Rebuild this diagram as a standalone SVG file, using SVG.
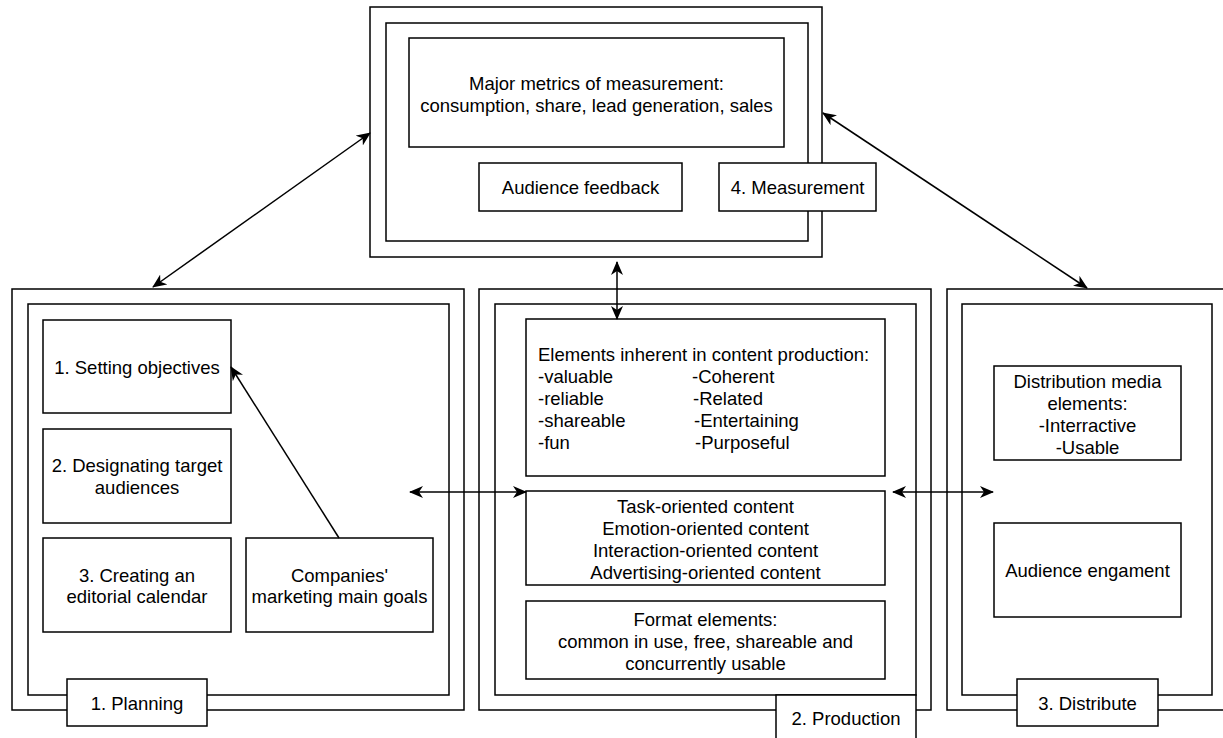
<svg xmlns="http://www.w3.org/2000/svg" width="1223" height="738" viewBox="0 0 1223 738">
<defs>
<style>
.b{fill:#fff;stroke:#000;stroke-width:1.5}
.t{font-family:"Liberation Sans",Arial,Helvetica,sans-serif;font-size:18.5px;fill:#000;text-anchor:middle}
.l{text-anchor:start}
.c{fill:none;stroke:#000;stroke-width:1.5}
</style>
<marker id="ah" markerUnits="userSpaceOnUse" markerWidth="14" markerHeight="12" viewBox="0 0 14 12" refX="13" refY="6" orient="auto-start-reverse">
<path d="M0,0 L14,6 L0,12 L4,6 Z" fill="#000"/>
</marker>
</defs>
<rect width="1223" height="738" fill="#fff"/>

<g id="measurement">
<rect class="b" x="370" y="7" width="452" height="250"/>
<rect class="b" x="386" y="23" width="422" height="218"/>
<g id="metrics">
<rect class="b" x="409" y="38" width="375" height="109"/>
<text class="t" x="596.5" y="89.5">Major metrics of measurement:</text>
<text class="t" x="596.5" y="111.5">consumption, share, lead generation, sales</text>
</g>
<g id="feedback">
<rect class="b" x="479" y="163" width="203" height="48"/>
<text class="t" x="580.5" y="194">Audience feedback</text>
</g>
<g id="measurement-label">
<rect class="b" x="719" y="163" width="157" height="48"/>
<text class="t" x="797.5" y="194">4. Measurement</text>
</g>
</g>

<g id="planning">
<rect class="b" x="12" y="289" width="452" height="421"/>
<rect class="b" x="28" y="304" width="421" height="391"/>
<g id="setting">
<rect class="b" x="43" y="320" width="188" height="93"/>
<text class="t" x="137" y="373.5">1. Setting objectives</text>
</g>
<g id="designating">
<rect class="b" x="43" y="429" width="188" height="94"/>
<text class="t" x="137" y="472">2. Designating target</text>
<text class="t" x="137" y="494">audiences</text>
</g>
<g id="creating">
<rect class="b" x="43" y="538" width="188" height="94"/>
<text class="t" x="137" y="581.5">3. Creating an</text>
<text class="t" x="137" y="603">editorial calendar</text>
</g>
<g id="companies">
<rect class="b" x="246" y="538" width="187" height="94"/>
<text class="t" x="339.5" y="581.5">Companies'</text>
<text class="t" x="339.5" y="603">marketing main goals</text>
</g>
<g id="planning-label">
<rect class="b" x="67" y="679" width="140" height="47"/>
<text class="t" x="137" y="709.5">1. Planning</text>
</g>
</g>

<g id="production">
<rect class="b" x="479" y="289" width="452" height="421"/>
<rect class="b" x="495" y="304" width="421" height="391"/>
<g id="elements">
<rect class="b" x="526" y="319" width="359" height="157"/>
<text class="t l" x="538" y="361">Elements inherent in content production:</text>
<text class="t l" x="538" y="383">-valuable</text>
<text class="t l" x="538" y="405">-reliable</text>
<text class="t l" x="538" y="427">-shareable</text>
<text class="t l" x="538" y="449">-fun</text>
<text class="t l" x="692" y="383">-Coherent</text>
<text class="t l" x="693" y="405">-Related</text>
<text class="t l" x="694" y="427">-Entertaining</text>
<text class="t l" x="695" y="449">-Purposeful</text>
</g>
<g id="content-types">
<rect class="b" x="526" y="491" width="359" height="94"/>
<text class="t" x="705.5" y="512.5">Task-oriented content</text>
<text class="t" x="705.5" y="534.5">Emotion-oriented content</text>
<text class="t" x="705.5" y="556.5">Interaction-oriented content</text>
<text class="t" x="705.5" y="578.5">Advertising-oriented content</text>
</g>
<g id="format">
<rect class="b" x="526" y="601" width="359" height="78"/>
<text class="t" x="705.5" y="625.5">Format elements:</text>
<text class="t" x="705.5" y="647.5">common in use, free, shareable and</text>
<text class="t" x="705.5" y="669.5">concurrently usable</text>
</g>
<g id="production-label">
<rect class="b" x="776" y="695" width="140" height="47"/>
<text class="t" x="846" y="725">2. Production</text>
</g>
</g>

<g id="distribute">
<rect class="b" x="947" y="289" width="280" height="421"/>
<rect class="b" x="962" y="304" width="250" height="391"/>
<g id="media">
<rect class="b" x="994" y="366" width="187" height="94"/>
<text class="t" x="1087.5" y="387.5">Distribution media</text>
<text class="t" x="1087.5" y="409.5">elements:</text>
<text class="t" x="1087.5" y="431.5">-Interractive</text>
<text class="t" x="1087.5" y="453.5">-Usable</text>
</g>
<g id="engagement">
<rect class="b" x="994" y="523" width="187" height="94"/>
<text class="t" x="1087.5" y="576.5">Audience engament</text>
</g>
<g id="distribute-label">
<rect class="b" x="1017" y="679" width="141" height="47"/>
<text class="t" x="1087.5" y="709.5">3. Distribute</text>
</g>
</g>

<g id="connectors">
<line class="c" x1="153" y1="287" x2="370" y2="133" marker-start="url(#ah)" marker-end="url(#ah)"/>
<line class="c" x1="823" y1="113" x2="1087" y2="288" marker-start="url(#ah)" marker-end="url(#ah)"/>
<line class="c" x1="617" y1="262" x2="617" y2="319" marker-start="url(#ah)" marker-end="url(#ah)"/>
<line class="c" x1="410" y1="492" x2="526" y2="492" marker-start="url(#ah)" marker-end="url(#ah)"/>
<line class="c" x1="893" y1="492" x2="993" y2="492" marker-start="url(#ah)" marker-end="url(#ah)"/>
<line class="c" x1="339" y1="538" x2="231" y2="367" marker-end="url(#ah)"/>
</g>
</svg>
